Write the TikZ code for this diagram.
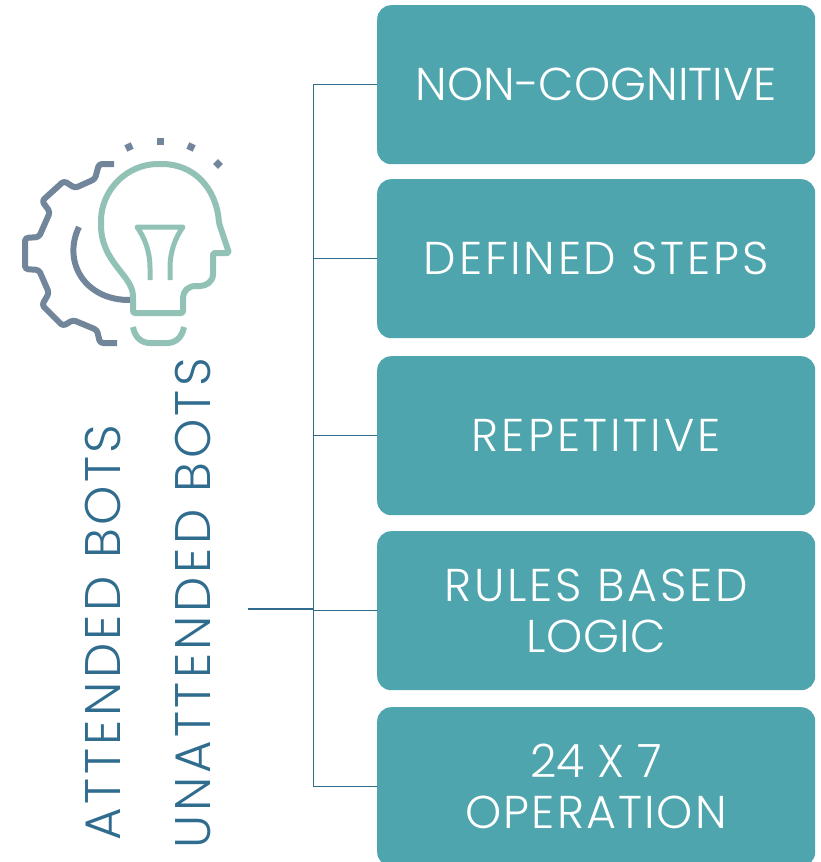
\documentclass[tikz,border=0pt]{standalone}
\usepackage{fontspec}
\setmainfont{Poppins Light}
\newfontfamily\botfont[LetterSpace=7]{Poppins Light}
\newcommand{\tracked}[2]{{\addfontfeatures{LetterSpace=#1}#2}}
\definecolor{boxteal}{HTML}{4EA5AD}
\definecolor{linkblue}{HTML}{2F6C8E}
\definecolor{geargray}{HTML}{71869A}
\definecolor{bulbgreen}{HTML}{92C1B5}
\tikzset{
  stepbox/.style={fill=boxteal, rounded corners=14pt, minimum width=438pt, minimum height=159pt, anchor=north west, align=center, text=white, font=\fontsize{46}{51}\selectfont},
  botlabel/.style={rotate=90, text=linkblue, font=\botfont\fontsize{50}{56}\selectfont},
  gearline/.style={geargray, line width=6pt, line join=round},
  bulbline/.style={bulbgreen, line width=6pt, line join=round},
  spark/.style={fill=geargray, minimum size=7pt, inner sep=0pt},
}
\begin{document}
\begin{tikzpicture}[x=1pt, y=-1pt]
\useasboundingbox (0,0) rectangle (820,862);
\node[stepbox] (noncog) at (377,5) {NON-COGNITIVE};
\node[stepbox] (defined) at (377,179) {\tracked{6}{DEFINED STEPS}};
\node[stepbox] (repet) at (377,356) {\tracked{6.5}{REPETITIVE}};
\node[stepbox] (rules) at (377,531) {\tracked{6}{RULES BASED}\\\tracked{1}{LOGIC}};
\node[stepbox] (opera) at (377,707) {24 X 7\\\tracked{4.5}{OPERATION}};
\node[botlabel] (attended) at (103,632.5) {ATTENDED BOTS};
\node[botlabel] (unattended) at (193,603) {UNATTENDED BOTS};
\coordinate (hub) at (313,609);
\coordinate (stub) at (248,609);
\draw[linkblue, line width=1.6pt] (stub) -- (hub);
\draw[linkblue, line width=1pt] (noncog.west) -| (hub);
\draw[linkblue, line width=1pt] (opera.west) -| (hub);
\draw[linkblue, line width=1pt] (defined.west) -- (defined.west -| hub);
\draw[linkblue, line width=1pt] (repet.west) -- (repet.west -| hub);
\draw[linkblue, line width=1pt] (rules.west) -- (rules.west -| hub);
% gear
\draw[gearline, rounded corners=3pt] (114,164) -- (99,164) -- (95,179) -- (75,188) -- (64,181) -- (42,201) -- (50,212) -- (39,237) -- (25,238) -- (25,269) -- (39,270) -- (49,293) -- (42,305) -- (63,326) -- (73,320) -- (97,330) -- (100,343) -- (117,343);
\draw[gearline] (79,227) .. controls (62,262) and (85,301) .. (131,300);
% bulb and head
\draw[bulbline, rounded corners=2pt] (133,313) -- (133,297) .. controls (132,275) and (101,262) .. (101,223) .. controls (101,190) and (127,164) .. (160,164) .. controls (193,164) and (216,187) .. (219,223) -- (229,253) -- (213,253) -- (213,272) .. controls (213,282) and (206,286) .. (198,286) .. controls (188,286) and (183,291) .. (183,300) -- (183,313) -- cycle;
\draw[bulbline, line width=5pt] (150,280) -- (150,268) .. controls (150,252) and (145,238) .. (137,227) -- (183,227) .. controls (175,238) and (170,252) .. (170,268) -- (170,280);
\draw[bulbline] (133,327) .. controls (135,338) and (142,343) .. (150,343) -- (167,343) .. controls (175,343) and (182,338) .. (184,327);
\node[spark, rotate=25] (dotone) at (129,147) {};
\node[spark] (dottwo) at (160,141) {};
\node[spark, rotate=-25] (dotthree) at (191,147) {};
\node[spark, rotate=45] (dotfour) at (218,164) {};
\end{tikzpicture}
\end{document}
